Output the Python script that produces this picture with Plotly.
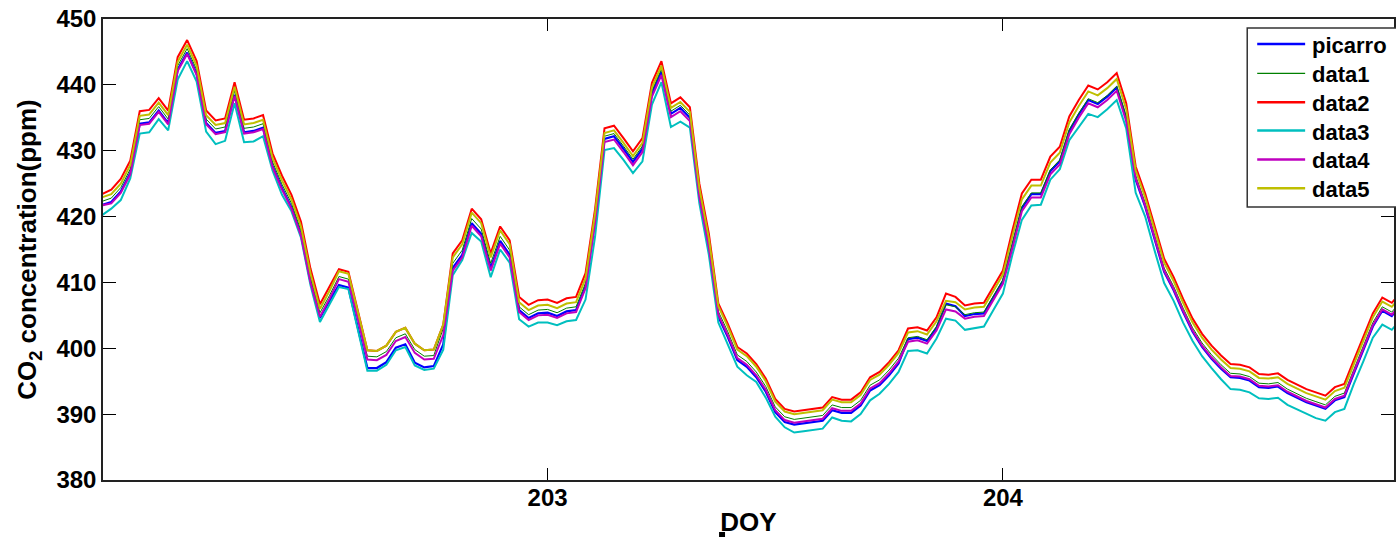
import plotly.graph_objects as go

# Half-hourly samples, DOY 202.0 .. 204.875
doy = [202 + k / 48 for k in range(139)]

picarro = [
    421.3, 421.8, 422.2, 423.8, 426.6, 434.1, 434.3, 436.1, 434.2, 442.3,
    444.9, 441.7, 434.2, 432.7, 433.0, 438.5, 432.8, 433.0, 433.5, 427.7,
    424.3, 421.4, 417.3, 410.2, 404.6, 407.2, 409.6, 409.2, 403.2, 397.0,
    397.0, 397.9, 400.1, 400.6, 397.8, 397.1, 397.3, 400.6, 412.2, 414.2,
    419.0, 417.4, 412.2, 416.3, 414.2, 405.8, 404.6, 405.3, 405.4, 404.9,
    405.6, 405.8, 409.4, 419.5, 431.8, 432.2, 430.3, 428.3, 430.3, 438.7,
    442.0, 435.6, 436.5, 435.0, 423.4, 415.8, 404.8, 401.7, 398.2, 397.2,
    395.6, 393.4, 390.3, 388.8, 388.4, 388.6, 388.8, 389.0, 390.6, 390.2,
    390.2, 391.3, 393.6, 394.4, 395.9, 397.7, 401.4, 401.6, 401.1, 403.1,
    406.8, 406.4, 404.9, 405.2, 405.3, 407.7, 410.2, 415.7, 421.3, 423.4,
    423.4, 426.9, 428.4, 433.0, 435.5, 437.7, 437.1, 438.2, 439.6, 435.0,
    425.6, 421.5, 416.5, 411.6, 408.8, 405.5, 402.5, 400.2, 398.4, 396.9,
    395.6, 395.5, 395.1, 394.1, 394.0, 394.2, 393.2, 392.5, 391.8, 391.3,
    390.8, 392.1, 392.6, 396.2, 399.7, 403.3, 405.7, 404.9, 406.6,
]

data1 = [
    421.8, 422.3, 422.8, 424.4, 427.2, 434.7, 434.9, 436.7, 434.8, 442.9,
    445.5, 442.3, 434.8, 433.3, 433.6, 439.1, 433.4, 433.6, 434.1, 428.3,
    424.9, 422.0, 417.9, 410.8, 405.4, 408.0, 410.9, 410.5, 404.8, 398.8,
    398.7, 399.5, 401.6, 402.2, 399.8, 398.8, 398.9, 403.0, 412.9, 414.9,
    419.7, 418.1, 412.9, 417.0, 414.9, 406.3, 405.1, 405.8, 405.9, 405.4,
    406.1, 406.3, 409.9, 419.9, 432.2, 432.6, 430.7, 428.7, 430.7, 439.1,
    442.4, 436.0, 436.9, 435.4, 423.8, 416.2, 405.6, 402.5, 399.0, 398.0,
    396.4, 394.2, 391.1, 389.6, 389.2, 389.4, 389.6, 389.8, 391.4, 391.0,
    391.0, 392.1, 394.4, 395.2, 396.7, 398.5, 401.6, 401.8, 401.3, 403.3,
    406.6, 406.3, 405.1, 405.4, 405.5, 407.9, 410.4, 415.9, 421.5, 423.6,
    423.6, 427.1, 428.6, 433.2, 435.7, 437.9, 437.3, 438.4, 439.8, 435.2,
    426.2, 422.1, 417.1, 412.2, 409.4, 406.1, 403.1, 400.8, 399.0, 397.5,
    396.2, 396.1, 395.7, 394.7, 394.6, 394.8, 393.8, 393.1, 392.4, 391.9,
    391.4, 392.7, 393.2, 396.8, 400.3, 403.9, 406.3, 405.5, 407.2,
]

data2 = [
    422.9, 423.4, 424.1, 425.7, 428.5, 436.0, 436.2, 438.0, 436.1, 444.2,
    446.8, 443.6, 436.1, 434.6, 434.9, 440.4, 434.7, 434.9, 435.4, 429.6,
    426.2, 423.3, 419.2, 412.1, 406.7, 409.3, 412.0, 411.6, 405.8, 399.7,
    399.6, 400.4, 402.5, 403.1, 400.7, 399.7, 399.8, 403.6, 414.4, 416.4,
    421.2, 419.6, 414.4, 418.5, 416.4, 407.8, 406.6, 407.3, 407.4, 406.9,
    407.6, 407.8, 411.4, 421.1, 433.4, 433.8, 431.9, 429.9, 431.9, 440.3,
    443.6, 437.2, 438.1, 436.6, 425.0, 417.4, 406.8, 403.7, 400.2, 399.2,
    397.6, 395.4, 392.3, 390.8, 390.4, 390.6, 390.8, 391.0, 392.6, 392.2,
    392.2, 393.3, 395.6, 396.4, 397.9, 399.7, 403.0, 403.2, 402.7, 404.7,
    408.3, 407.8, 406.5, 406.8, 406.9, 409.3, 411.8, 417.9, 423.5, 425.6,
    425.6, 429.1, 430.6, 435.2, 437.7, 439.9, 439.3, 440.4, 441.8, 437.2,
    427.6, 423.5, 418.5, 413.6, 410.8, 407.5, 404.5, 402.2, 400.4, 398.9,
    397.6, 397.5, 397.1, 396.1, 396.0, 396.2, 395.2, 394.5, 393.8, 393.3,
    392.8, 394.1, 394.6, 398.2, 401.7, 405.3, 407.7, 406.9, 408.6,
]

data3 = [
    419.6, 420.2, 421.2, 422.5, 425.8, 432.6, 432.8, 434.8, 433.1, 440.8,
    443.6, 440.5, 432.9, 431.0, 431.5, 437.2, 431.3, 431.4, 432.2, 427.0,
    423.3, 420.8, 416.8, 409.6, 404.0, 406.6, 409.3, 409.0, 402.6, 396.6,
    396.6, 397.5, 399.7, 400.2, 397.4, 396.7, 396.9, 399.8, 411.1, 413.4,
    417.5, 416.2, 410.8, 415.0, 413.0, 404.4, 403.3, 403.9, 403.9, 403.5,
    404.1, 404.3, 407.4, 416.9, 430.1, 430.4, 428.6, 426.6, 428.4, 437.0,
    440.4, 433.6, 434.4, 433.5, 422.0, 414.2, 403.9, 400.6, 397.2, 395.9,
    394.9, 392.5, 389.6, 388.0, 387.2, 387.4, 387.6, 387.8, 389.5, 389.0,
    388.9, 390.0, 392.1, 393.1, 394.6, 396.4, 399.6, 399.7, 399.2, 401.5,
    404.5, 404.2, 402.8, 403.1, 403.3, 405.8, 408.3, 414.2, 419.5, 421.7,
    421.8, 425.6, 427.2, 431.6, 433.6, 435.6, 435.1, 436.3, 437.7, 433.4,
    423.6, 420.0, 414.8, 409.9, 407.2, 403.9, 401.1, 398.8, 397.0, 395.3,
    393.8, 393.7, 393.3, 392.4, 392.3, 392.5, 391.4, 390.7, 390.0, 389.4,
    389.0, 390.3, 390.8, 394.6, 398.0, 401.6, 403.6, 402.8, 404.5,
]

data4 = [
    421.2, 421.7, 422.0, 423.6, 426.4, 433.9, 434.1, 435.9, 434.0, 442.1,
    444.7, 441.5, 434.0, 432.5, 432.8, 438.3, 432.6, 432.8, 433.3, 427.5,
    424.1, 421.2, 417.1, 410.0, 404.8, 407.5, 410.5, 410.1, 404.4, 398.3,
    398.2, 399.0, 401.1, 401.7, 399.3, 398.3, 398.4, 402.0, 411.8, 413.8,
    418.6, 417.0, 411.8, 415.9, 413.8, 405.5, 404.3, 405.0, 405.1, 404.6,
    405.3, 405.5, 409.1, 419.0, 431.3, 431.7, 429.8, 427.8, 429.8, 438.2,
    441.5, 435.1, 436.0, 434.5, 422.9, 415.3, 405.1, 402.0, 398.5, 397.5,
    395.9, 393.7, 390.6, 389.1, 388.7, 388.9, 389.1, 389.3, 390.9, 390.5,
    390.5, 391.6, 393.9, 394.7, 396.2, 398.0, 401.0, 401.2, 400.7, 402.7,
    405.9, 405.6, 404.5, 404.8, 404.9, 407.3, 409.8, 415.2, 420.8, 422.9,
    422.9, 426.4, 427.9, 432.5, 435.0, 437.2, 436.6, 437.7, 439.1, 434.5,
    425.8, 421.7, 416.7, 411.8, 409.0, 405.7, 402.7, 400.4, 398.6, 397.1,
    395.8, 395.7, 395.3, 394.3, 394.2, 394.4, 393.4, 392.7, 392.0, 391.5,
    391.0, 392.3, 392.8, 396.4, 399.9, 403.5, 405.9, 405.1, 406.8,
]

data5 = [
    422.4, 422.9, 423.4, 425.0, 427.8, 435.3, 435.5, 437.3, 435.4, 443.5,
    446.1, 442.9, 435.4, 433.9, 434.2, 439.7, 434.0, 434.2, 434.7, 428.9,
    425.5, 422.6, 418.5, 411.4, 406.0, 408.7, 411.7, 411.3, 405.6, 399.7,
    399.6, 400.4, 402.5, 403.1, 400.7, 399.7, 399.8, 403.6, 413.8, 415.8,
    420.6, 419.0, 413.8, 417.9, 415.8, 407.0, 405.8, 406.5, 406.6, 406.1,
    406.8, 407.0, 410.6, 420.4, 432.7, 433.1, 431.2, 429.2, 431.2, 439.6,
    442.9, 436.5, 437.4, 435.9, 424.3, 416.7, 406.4, 403.3, 399.8, 398.8,
    397.2, 395.0, 391.9, 390.4, 390.0, 390.2, 390.4, 390.6, 392.2, 391.8,
    391.8, 392.9, 395.2, 396.0, 397.5, 399.3, 402.4, 402.6, 402.1, 404.1,
    407.2, 407.0, 405.9, 406.2, 406.3, 408.7, 411.2, 417.0, 422.6, 424.7,
    424.7, 428.2, 429.7, 434.3, 436.8, 439.0, 438.4, 439.5, 440.9, 436.3,
    427.0, 422.9, 417.9, 413.0, 410.2, 406.9, 403.9, 401.6, 399.8, 398.3,
    397.0, 396.9, 396.5, 395.5, 395.4, 395.6, 394.6, 393.9, 393.2, 392.7,
    392.2, 393.5, 394.0, 397.6, 401.1, 404.7, 407.1, 406.3, 408.0,
]

series_names = ["picarro", "data1", "data2", "data3", "data4", "data5"]
series_values = [picarro, data1, data2, data3, data4, data5]
colors = ["#0000FF", "#008000", "#FF0000", "#00BFBF", "#BF00BF", "#BFBF00"]
widths = [2.2, 1, 2, 2, 2, 2]

x_ticks = [203, 204]
x_ticklabels = ["203", "204"]
y_ticks = [380, 390, 400, 410, 420, 430, 440, 450]

FONT = "Liberation Sans, Arial, sans-serif"

fig = go.Figure()
for name, vals, c, w in zip(series_names, series_values, colors, widths):
    assert len(vals) == len(doy)
    fig.add_trace(go.Scatter(x=doy, y=vals, mode="lines", name=name,
                             line=dict(color=c, width=w), showlegend=False))

# plot area in pixels: x 103..1396, y 19..480
def px_x(p):
    return (p - 103) / 1293.0

def px_y(p):
    return (480 - p) / 461.0

shapes = []
annotations = []
# legend box (its right side runs off the picture as in the original)
shapes.append(dict(type="rect", xref="paper", yref="paper",
                   x0=px_x(1249), x1=px_x(1420), y0=px_y(207), y1=px_y(28),
                   line=dict(color="#333333", width=1.5), fillcolor="white",
                   layer="above"))
legend_y = [44, 73.3, 102.3, 130.5, 159.5, 188.3]
for name, c, w, ly in zip(series_names, colors, widths, legend_y):
    shapes.append(dict(type="line", xref="paper", yref="paper",
                       x0=px_x(1259), x1=px_x(1307), y0=px_y(ly), y1=px_y(ly),
                       line=dict(color=c, width=w + 0.5 if w > 1 else 1.2),
                       layer="above"))
    annotations.append(dict(text=name, xref="paper", yref="paper",
                            x=px_x(1312), y=px_y(ly + 1.5), xanchor="left",
                            yanchor="middle", showarrow=False,
                            font=dict(family=FONT, size=22, color="black",
                                      weight="bold")))
# small black mark below the axis (present in the original picture)
shapes.append(dict(type="rect", xref="paper", yref="paper",
                   x0=px_x(720), x1=px_x(726), y0=px_y(537), y1=px_y(532),
                   line=dict(width=0), fillcolor="black"))

fig.update_layout(
    width=1396, height=537,
    margin=dict(l=103, r=0, t=19, b=57),
    paper_bgcolor="white", plot_bgcolor="white",
    shapes=shapes, annotations=annotations,
    showlegend=False,
    xaxis=dict(range=[202.0235, 204.859], tickvals=x_ticks, ticktext=x_ticklabels,
               ticks="inside", ticklen=12, tickwidth=1.2, tickcolor="black",
               ticklabelstandoff=-5,
               showline=True, linecolor="#222222", linewidth=1.5, mirror="ticks",
               showgrid=False, zeroline=False,
               tickfont=dict(family=FONT, size=24, color="black", weight="bold"),
               title=dict(text="DOY", standoff=8,
                          font=dict(family=FONT, size=26, color="black", weight="bold"))),
    yaxis=dict(range=[380, 450], tickvals=y_ticks,
               ticks="inside", ticklen=13, tickwidth=1.2, tickcolor="black",
               showline=True, linecolor="#222222", linewidth=1.5, mirror="ticks",
               showgrid=False, zeroline=False,
               tickfont=dict(family=FONT, size=24, color="black", weight="bold"),
               title=dict(text="CO<sub>2</sub> concentration(ppm)", standoff=12,
                          font=dict(family=FONT, size=26, color="black", weight="bold"))),
)

fig.write_html("out.html")
